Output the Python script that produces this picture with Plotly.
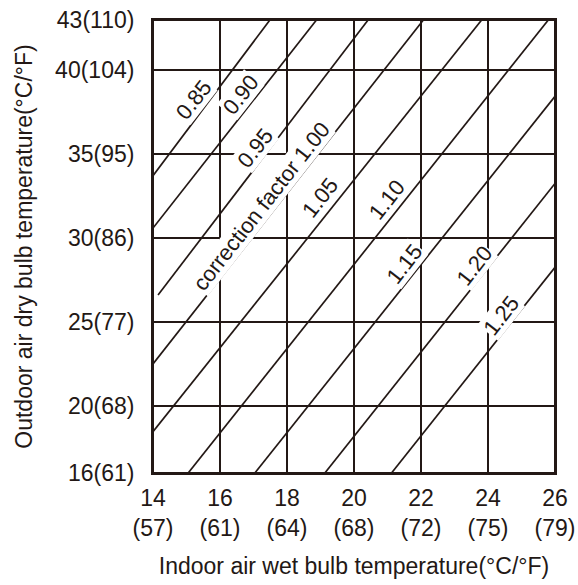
import plotly.graph_objects as go

# ---- data ----
x_ticks = [14, 16, 18, 20, 22, 24, 26]
x_ticks_f = [57, 61, 64, 68, 72, 75, 79]
y_ticks = [16, 20, 25, 30, 35, 40, 43]
y_ticks_f = [61, 68, 77, 86, 95, 104, 110]

factors = [0.85, 0.90, 0.95, 1.00, 1.05, 1.10, 1.15, 1.20, 1.25]
line_x0 = [14.0, 14.0, 14.15, 14.0, 14.0, 15.05, 17.04, 19.13, 21.12]
line_y0 = [33.72, 30.6, 26.61, 22.5, 18.46, 16.0, 16.0, 16.0, 16.0]
line_x1 = [17.49, 18.88, 20.42, 22.07, 23.81, 25.8, 26.0, 26.0, 26.0]
line_y1 = [43.0, 43.0, 43.0, 43.0, 43.0, 43.0, 38.45, 33.26, 28.26]

# label placement along each line (x position on the line) and vertical pixel offset
label_x = [15.22, 16.62, 17.07, 17.23, 19.0, 20.98, 21.52, 23.6, 24.4]
label_shift = [22, 22, 19, 20, 24, 24, 21, 19, 19]

INK = "#231815"
FONT = "Liberation Sans, Arial, sans-serif"
FS = 23

fig = go.Figure()
for i, f in enumerate(factors):
    fig.add_trace(go.Scatter(
        x=[line_x0[i], line_x1[i]], y=[line_y0[i], line_y1[i]],
        mode="lines", line=dict(color=INK, width=1.7),
        hoverinfo="skip", showlegend=False, name=f"{f:.2f}"))

annotations = []
for i, f in enumerate(factors):
    m = (line_y1[i] - line_y0[i]) / (line_x1[i] - line_x0[i])
    ly = line_y0[i] + m * (label_x[i] - line_x0[i])
    txt = f"{f:.2f}"
    if abs(f - 1.00) < 1e-9:
        txt = "correction factor 1.00"
    annotations.append(dict(
        x=label_x[i], y=ly, xref="x", yref="y", text=txt, showarrow=False,
        textangle=-52, yshift=label_shift[i], bgcolor="white", borderpad=0,
        font=dict(family=FONT, size=FS - 1, color=INK)))

fig.update_layout(
    width=578, height=585,
    margin=dict(l=153, r=23, t=20, b=112, autoexpand=False),
    paper_bgcolor="white", plot_bgcolor="white",
    font=dict(family=FONT, size=FS, color=INK),
    annotations=annotations,
    shapes=[dict(type="rect", xref="x domain", yref="y domain",
                 x0=0, x1=1, y0=0, y1=1, line=dict(color=INK, width=2),
                 layer="above")],
    xaxis=dict(
        range=[14, 26], tickmode="array", tickvals=x_ticks,
        ticktext=[f"{c}<br>({fv})" for c, fv in zip(x_ticks, x_ticks_f)],
        showgrid=True, gridcolor=INK, gridwidth=1.7, zeroline=False,
        showline=True, mirror=True, linecolor=INK, linewidth=2,
        ticks="", ticklabelstandoff=3, automargin=False,
        ticklabeloverflow="allow",
        title=dict(text="Indoor air wet bulb temperature(°C/°F)", standoff=18,
                   font=dict(family=FONT, size=FS, color=INK)),
    ),
    yaxis=dict(
        range=[16, 43], tickmode="array", tickvals=y_ticks,
        ticktext=[f"{c}({fv})" for c, fv in zip(y_ticks, y_ticks_f)],
        showgrid=True, gridcolor=INK, gridwidth=1.7, zeroline=False,
        showline=True, mirror=True, linecolor=INK, linewidth=2,
        ticks="", ticklabelstandoff=12, automargin=False,
        ticklabeloverflow="allow",
        title=dict(text="Outdoor air dry bulb temperature(°C/°F)", standoff=16,
                   font=dict(family=FONT, size=FS, color=INK)),
    ),
)

# remove the default page margin so the figure sits at the window's top-left corner
fig.write_html(
    "out.html",
    config={"displayModeBar": False, "staticPlot": True},
    post_script="document.body.style.margin='0px';document.body.style.overflow='hidden';",
)
